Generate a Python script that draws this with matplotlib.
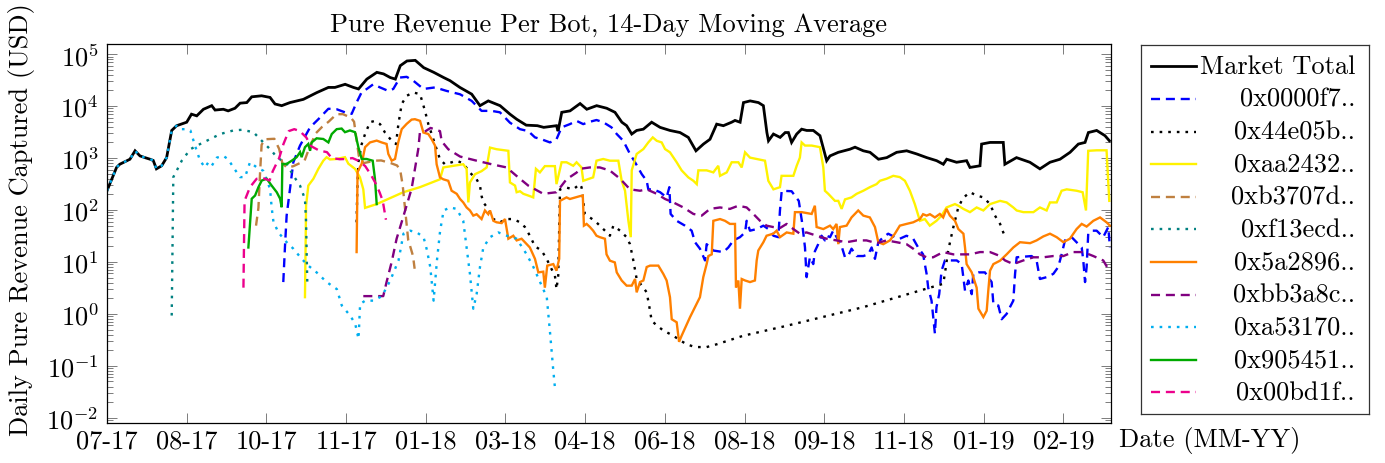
import numpy as np
import matplotlib
matplotlib.use('Agg')
import matplotlib.pyplot as plt
from matplotlib.ticker import LogLocator, NullFormatter, FuncFormatter, FixedLocator

plt.rcParams['font.family'] = 'cmr10'
plt.rcParams['mathtext.fontset'] = 'cm'
plt.rcParams['axes.formatter.use_mathtext'] = True
plt.rcParams['lines.scale_dashes'] = False
plt.rcParams['font.size'] = 19

## data: (days since first tick, 14-day MA revenue in USD)
tick_labels = ['07-17', '08-17', '10-17', '11-17', '01-18', '03-18', '04-18',
               '06-18', '08-18', '09-18', '11-18', '01-19', '02-19']

bot_names = ['Market Total', '0x0000f7..', '0x44e05b..', '0xaa2432..', '0xb3707d..',
             '0xf13ecd..', '0x5a2896..', '0xbb3a8c..', '0xa53170..', '0x905451..',
             '0x00bd1f..']

market_total = [(0, 235), (6, 660), (8, 760), (14.4, 950), (17.6, 1380), (20.7, 1100), (23.8, 1020),
                (27, 950), (29, 900), (31, 620), (34.3, 710), (37.4, 1020), (40.6, 3400), (43.7, 4200),
                (50, 4900), (53, 7000), (56.3, 6500), (60.5, 8700), (65.7, 10200), (67.8, 8400), (73, 8700),
                (76, 8100), (80.3, 9100), (83.5, 11400), (87.7, 11700), (90.8, 15100), (97, 15800),
                (102.3, 14700), (105.4, 11000), (109.6, 10200), (114.8, 11700), (123.2, 13500),
                (131.6, 18200), (138.9, 22900), (143, 22900), (149.4, 26300), (154.6, 22900),
                (157.8, 21400), (163, 33100), (169.3, 44700), (173.5, 41700), (177.7, 35500),
                (180.9, 33100), (184, 60000), (188.2, 74000), (193.4, 76000), (198.7, 55000),
                (205, 44700), (211.2, 35500), (215.2, 30900), (221.4, 22900), (228.8, 17000),
                (234, 10200), (239.2, 12600), (246.6, 10200), (252.8, 7000), (257, 5600), (263, 4300),
                (270, 4200), (274, 3900), (282, 4200), (283, 3300), (285.3, 7600), (290.5, 8100),
                (296.8, 11200), (301, 8700), (307.2, 10200), (313.5, 9100), (318.7, 7600), (323, 4900),
                (326, 4200), (329.2, 2900), (332.3, 3400), (336.5, 3600), (341.7, 4900), (347, 3900),
                (353.2, 3400), (359.5, 3100), (364.7, 2500), (369.5, 1380), (374.2, 1860), (378.3, 2300),
                (382.5, 4500), (386.7, 4200), (391.9, 4900), (394, 5300), (397.2, 4900), (399.3, 11700),
                (403.5, 12600), (408.7, 11700), (411.8, 10200), (414, 3100), (415, 2150), (418.1, 2900),
                (422.3, 2500), (425.5, 3100), (427.5, 3100), (429.5, 2000), (432.7, 2900), (435.8, 3600),
                (439, 3400), (443.1, 3400), (447.3, 2700), (451.5, 890), (453.6, 1100), (458.8, 1290),
                (466.1, 1480), (469.3, 1620), (474.5, 1380), (478.7, 1290), (484, 950), (489.2, 1020),
                (495.4, 1290), (501.7, 1380), (508, 1200), (514.3, 1020), (520.5, 890), (524.7, 760),
                (526.8, 950), (533, 830), (539.3, 890), (541.4, 660), (547.7, 710), (548.7, 1860),
                (554, 2000), (562.3, 2000), (563.3, 760), (570.6, 1020), (579, 830), (585.3, 620),
                (591.6, 830), (597.9, 950), (604.2, 1290), (609.4, 1860), (613.6, 2000), (615.7, 3100),
                (620.9, 3400), (626.1, 2700), (628.9, 2150)]

bot_0000f7 = [(110.6, 4.1), (111.7, 21), (112.7, 78), (114.8, 255), (116.9, 830), (121.1, 1740),
              (127.4, 3900), (132.6, 5600), (138.9, 8900), (144.1, 8700), (149.3, 7600), (153.5, 7100),
              (156.6, 11800), (159.8, 18600), (163, 21400), (167.1, 26400), (171.3, 22900), (176.5, 19600),
              (179.6, 21400), (183.8, 35500), (188, 36600), (192.2, 30800), (198.5, 21400), (205.8, 22900),
              (213.1, 19600), (221.5, 16900), (228.8, 12600), (235, 8100), (241.3, 8100), (246.5, 7600),
              (252.8, 4800), (259.1, 3600), (264.3, 3300), (268.5, 2500), (272.6, 2300), (277.9, 2000),
              (282, 2300), (285.2, 3900), (290.4, 4500), (294.6, 5200), (298.8, 4500), (301.9, 4900),
              (307.1, 5400), (311.3, 4900), (316.5, 3900), (319.8, 2900), (323.9, 2150), (328.1, 1200),
              (331.3, 830), (335.5, 490), (338.6, 365), (339.6, 250), (342.8, 250), (347, 220),
              (351.1, 175), (352.8, 275), (353.6, 84), (357.4, 62), (362.6, 50), (366.8, 40), (368.9, 24),
              (372, 18), (375.2, 10.7), (376.2, 22), (380.4, 16.6), (386.7, 15.5), (389.8, 19), (393, 26),
              (397.1, 30), (400.3, 37), (401.3, 62), (403.4, 40), (407.6, 43), (411.8, 50), (414.9, 43),
              (418.1, 32), (421.2, 30), (422.2, 98), (423.3, 235), (429.5, 230), (434, 150), (436, 60),
              (437.9, 19), (438.9, 5.1), (441, 12.3), (443.1, 9.1), (444.1, 16), (446.2, 22), (448.3, 32),
              (450.4, 26), (451.5, 32), (453.6, 30), (455.6, 40), (458.8, 26), (460.9, 20), (463, 12.3),
              (465, 13), (467.1, 18), (470.3, 13), (474.5, 13), (477.6, 14), (479.7, 19), (481.8, 11.5),
              (483.9, 24), (487, 30), (490.1, 35), (494.3, 30), (497.4, 28), (501.6, 32), (505.8, 28),
              (508.9, 19), (512, 14), (514.2, 5.9), (515.2, 3.2), (517.3, 1.8), (519.4, 0.42), (520.4, 1.35),
              (522.1, 2.4), (523.6, 6.8), (525.7, 10.7), (533.1, 10.7), (536.2, 9.1), (538.3, 2.8),
              (540.4, 4.4), (542.5, 2.4), (543.5, 5.9), (546.7, 6.3), (550.8, 6.3), (555, 4.1), (556.1, 1.55),
              (559.2, 1.45), (561.3, 0.79), (564.4, 1.0), (566.5, 1.35), (568.6, 1.8), (569.7, 5.9),
              (570.7, 12.3), (574.9, 12.6), (580.1, 13), (583.2, 10.7), (585.3, 4.7), (589.5, 5.1),
              (593.7, 5.9), (596.8, 8), (598.9, 14), (601, 26), (605.2, 30), (608.3, 24), (611.5, 19),
              (612.5, 10.7), (613.6, 4.1), (614.6, 8), (615.6, 35), (617.7, 40), (620.9, 40), (625, 30),
              (628.2, 47), (629.2, 19)]

bot_44e05b = [(156.6, 58), (157, 235), (157.7, 830), (159.8, 1860), (161.9, 2900), (165, 4900),
              (168.1, 5200), (171.3, 4500), (174.4, 3100), (178.6, 2150), (181.3, 1860), (182.8, 4500),
              (184.9, 11000), (188, 15800), (192.2, 18300), (196.4, 17000), (199.5, 8100), (201.6, 4500),
              (203.7, 2900), (206.8, 1480), (208.9, 950), (212, 760), (215.2, 810), (219.4, 890),
              (222.5, 810), (224.6, 710), (227.7, 525), (231.9, 390), (234, 295), (235, 186), (236.1, 140),
              (239.2, 105), (242.4, 67), (246.5, 58), (250.7, 67), (254.9, 67), (259.1, 58), (262.2, 47),
              (265.3, 32), (268.5, 20), (272.6, 16.6), (275.8, 11.5), (278.9, 7.3), (281, 5.5), (282, 3),
              (283.1, 5.5), (284.2, 250), (288.3, 270), (292.5, 250), (296.7, 315), (297.7, 275),
              (299.8, 84), (302.9, 72), (306, 62), (309.2, 50), (312.4, 40), (315.5, 32), (317.7, 50),
              (321.9, 40), (326, 30), (328.1, 22), (330.2, 10.7), (332.3, 4.7), (336.5, 3.2), (338.6, 2.6),
              (340.7, 1.15), (341.7, 0.74), (344.9, 0.6), (349, 0.48), (355.3, 0.38), (359.5, 0.31),
              (363.7, 0.26), (368.9, 0.23), (376.2, 0.23), (382.5, 0.26), (399.2, 0.38), (425.3, 0.58),
              (474.5, 1.35), (524.6, 3.8), (525.7, 6), (527.5, 15), (529, 25), (531, 47), (534, 110),
              (537, 170), (541.4, 220), (545.6, 190), (549.8, 175), (554, 130), (557.1, 78), (560.3, 54),
              (562.3, 37), (564, 28)]

bot_aa2432 = [(124.2, 2.1), (124.9, 122), (126.3, 295), (129.5, 400), (132.6, 620), (135.7, 890),
              (137.8, 1040), (139.9, 940), (144.1, 960), (149.3, 1040), (151.4, 780), (155.6, 620),
              (158.7, 425), (160.8, 250), (161.9, 110), (169.2, 130), (185.9, 220), (196.3, 275),
              (208.9, 390), (211, 660), (217.3, 710), (223.5, 760), (225.6, 620), (226.7, 140), (227.7, 340),
              (230.9, 490), (235, 560), (238.2, 660), (240.3, 1590), (244.4, 1480), (251.8, 1380),
              (252.8, 340), (256, 295), (257, 220), (259.1, 230), (261.2, 205), (264.3, 190), (267.4, 175),
              (269.1, 620), (271.6, 530), (274.7, 700), (281, 700), (282, 315), (285.2, 830), (288.3, 830),
              (292.5, 710), (294.6, 830), (297.7, 660), (298.8, 365), (305, 425), (307.1, 890), (311.3, 960),
              (315.5, 890), (320.8, 890), (322.9, 365), (325, 235), (327.1, 62), (328.6, 30), (329.2, 580),
              (332.3, 1200), (336.5, 1490), (339.6, 2000), (342.4, 2500), (344.9, 2150), (348, 2000),
              (350.1, 1490), (353.2, 1290), (357.4, 830), (360.5, 580), (364.7, 425), (367.9, 365),
              (370, 315), (371, 580), (376.2, 580), (380.4, 530), (383.5, 710), (384.6, 455), (388.8, 530),
              (391.9, 830), (396.1, 830), (398.2, 660), (400.3, 1290), (403.4, 1020), (407.6, 960),
              (412.8, 890), (414.9, 365), (418.1, 250), (422.2, 275), (423.2, 455), (430.6, 455),
              (432.7, 710), (434.7, 1020), (435.8, 2000), (437.9, 1740), (442.1, 1740), (447.3, 1620),
              (449.4, 660), (450.4, 235), (452.5, 205), (454.6, 175), (456.7, 150), (458.8, 150),
              (460.9, 105), (463, 160), (467.1, 175), (470.3, 205), (474.5, 235), (478.6, 275), (482.8, 315),
              (484.9, 365), (489.1, 400), (493.3, 455), (497.4, 430), (500.6, 365), (503.7, 235),
              (506.8, 130), (510, 62), (513.1, 67), (516.2, 50), (520.4, 62), (523.6, 78), (526.7, 112),
              (532, 130), (534.1, 121), (537.3, 105), (541.4, 91), (545.6, 112), (549.8, 98), (554, 130),
              (560.3, 150), (564.4, 140), (568.6, 112), (570.7, 98), (574.9, 91), (581.2, 91), (585.3, 112),
              (589.5, 98), (591.6, 140), (595.8, 140), (598.9, 235), (602.1, 250), (608.3, 235),
              (612.1, 220), (614.2, 98), (615.6, 1380), (620.9, 1410), (627.1, 1410), (628.8, 150)]

bot_b3707d = [(93.5, 50), (95, 110), (96, 500), (97, 1800), (99, 2300), (105, 2350), (108, 1500),
              (110, 800), (113, 650), (117, 700), (121, 800), (124, 900), (127, 1600), (131, 3000),
              (135, 4000), (139, 5000), (144, 7000), (148, 7000), (153, 6000), (155, 5000), (158, 1100),
              (161, 800), (168, 890), (172, 900), (178, 800), (182, 720), (184, 575), (185.5, 300),
              (189, 26), (190, 21), (192, 13), (193, 7.4)]

bot_f13ecd = [(40.6, 0.93), (41.6, 430), (43.7, 570), (46.9, 890), (52.3, 1480), (58.4, 1860),
              (65.1, 2350), (71, 2900), (79.3, 3400), (84.5, 3500), (91.8, 3160), (98.1, 2000),
              (103.3, 1380), (106.5, 1040), (112.7, 780), (116.9, 460), (121.1, 295), (124.2, 162),
              (124.9, 59), (125.3, 13), (125.7, 3.5)]

bot_5a2896 = [(156.6, 15.5), (157.2, 540), (159.8, 780), (161.9, 1620), (165, 2000), (169.2, 2170),
              (172.3, 2000), (175.4, 1870), (176.5, 1200), (178.6, 890), (180.7, 960), (182.7, 2000),
              (184.9, 3600), (188, 4550), (191.1, 5500), (193.2, 5600), (196.4, 5200), (198.5, 3100),
              (201.6, 2900), (203.7, 2300), (205.8, 1740), (206.8, 760), (208.9, 425), (211, 390),
              (214.1, 365), (216.2, 235), (219.4, 205), (221.5, 163), (223.5, 140), (225.6, 112),
              (227.7, 98), (229.8, 78), (231.9, 83), (235, 67), (237.1, 98), (239.2, 83), (240.3, 98),
              (242.4, 62), (244.4, 58), (247.6, 56), (249.7, 67), (251.8, 28), (254.9, 32), (257, 26),
              (260.1, 28), (262.2, 24), (265.3, 19), (268.5, 11.5), (270.6, 6.3), (273.7, 6.5), (274.7, 3.2),
              (276.2, 8.5), (280, 9.1), (282, 6.8), (283.7, 11.5), (284.2, 150), (288.3, 175), (290.4, 163),
              (296.7, 185), (298.5, 190), (299.2, 50), (300.9, 54), (303, 47), (305, 40), (307.1, 32),
              (309.2, 30), (312.4, 28), (313.4, 14), (315.5, 10.6), (318.6, 9.8), (319.8, 6.3), (322.9, 4.4),
              (326, 3.5), (329.2, 3.5), (331.3, 4.7), (332.3, 2.6), (334.4, 4.1), (336.5, 4.4), (338.6, 8),
              (340.7, 8.5), (345.9, 8.5), (349, 5.9), (351.1, 4.4), (353.2, 2.1), (354.3, 0.79),
              (357.4, 0.69), (358.9, 0.29), (360.5, 0.38), (365.8, 0.87), (372, 2.1), (374.1, 5.1),
              (376.2, 9.1), (377.3, 13), (379.4, 14), (380.4, 62), (384.6, 67), (387.7, 62), (390.8, 54),
              (394, 54), (394.6, 3.2), (396.1, 4.4), (397.1, 1.26), (398.2, 4.7), (400.3, 4.4), (403.4, 4.1),
              (406.5, 4.4), (407.6, 10.7), (408.6, 16.6), (411.8, 24), (413.8, 32), (418, 35), (420.1, 40),
              (422.2, 30), (426.4, 37), (430.6, 35), (431.6, 91), (435.8, 91), (442.1, 84), (444.1, 121),
              (445.2, 47), (449.4, 43), (453.6, 50), (455.6, 43), (457.7, 54), (458.8, 22), (459.8, 47),
              (464, 50), (467.1, 72), (471.3, 98), (474.5, 78), (478.6, 72), (481.8, 47), (483.9, 24),
              (487, 22), (491.2, 26), (494.3, 35), (497.4, 50), (501.6, 54), (505.8, 58), (510, 67),
              (512, 83), (514.2, 78), (516.3, 83), (519.4, 72), (522.5, 84), (524.6, 72), (526.7, 105),
              (528.8, 78), (532, 62), (534.1, 43), (537.3, 35), (538.3, 19), (539.3, 9.1), (542.5, 6.3),
              (545.6, 3.2), (546.7, 1.26), (549.8, 0.87), (551.9, 1.15), (552.9, 2.8), (554, 6.8),
              (556.1, 9.1), (560.3, 10.6), (564.4, 14), (568.6, 19), (572.8, 24), (579.1, 23), (583.2, 26),
              (587.4, 31), (591.6, 35), (595.8, 30), (600, 24), (604.1, 28), (608.3, 43), (611.5, 54),
              (614.6, 48), (618.8, 62), (623, 72), (627.1, 58), (629.2, 50)]

bot_bb3a8c = [(160.8, 2.2), (173.3, 2.2), (175.4, 4.1), (178.6, 10), (181.7, 28), (184.9, 59), (188, 123),
              (191.1, 257), (193.2, 620), (195.3, 1500), (196.3, 3100), (198.5, 3100), (203, 3800),
              (208.9, 3300), (210, 2100), (214.1, 1480), (221.5, 1070), (231.9, 890), (241.3, 760),
              (250.7, 660), (258, 425), (264.3, 295), (273.7, 205), (282, 220), (288.3, 390), (294.6, 525),
              (296.7, 620), (303, 660), (309.2, 660), (315.5, 575), (321.9, 400), (328.1, 250), (334.4, 235),
              (338.6, 250), (344.9, 205), (350.1, 163), (355.3, 140), (361.6, 112), (367.9, 84), (373.1, 78),
              (378.3, 105), (384.6, 112), (390.8, 105), (396.1, 121), (401.3, 112), (405.5, 84), (409.7, 62),
              (413.8, 50), (418, 47), (422.2, 45), (426.4, 54), (430.6, 43), (434.7, 35), (438.9, 37),
              (445.2, 32), (451.5, 28), (457.7, 26), (464, 24), (470.3, 26), (476.5, 26), (482.8, 23),
              (489.1, 26), (495.4, 24), (501.6, 22), (505.8, 18), (510, 14), (514.2, 12.3), (518.3, 12.3),
              (524.6, 15.5), (531, 14), (535.2, 14), (541.4, 14), (547.7, 15.5), (554, 15.5), (560.3, 13),
              (563.4, 10.7), (568.6, 9.1), (574.9, 10.7), (581.2, 12.3), (587.4, 12.3), (593.7, 13),
              (600, 13), (606.2, 15.5), (612.5, 15.5), (618.8, 13), (625, 10.7), (628.8, 6.8)]

bot_a53170 = [(0, 235), (6, 660), (8, 760), (14.4, 950), (17.6, 1380), (20.7, 1100), (23.8, 1020),
              (27, 950), (29, 900), (31, 620), (34.3, 710), (37.4, 1020), (40.6, 3400), (43.7, 4200),
              (46, 3600), (50, 3600), (52.3, 3400), (55.2, 1740), (58.4, 890), (61.5, 660), (63.6, 830),
              (65.7, 710), (68.9, 1020), (73, 1100), (76, 950), (79.3, 660), (83.5, 430), (86.6, 430),
              (89.7, 830), (94, 660), (98, 570), (102.3, 255), (103.3, 112), (104.4, 60), (107.5, 37),
              (112.7, 24), (116.9, 18), (122.1, 11.5), (126.3, 8.5), (131.5, 6.3), (137.8, 4.1),
              (144.2, 3), (147.3, 1.45), (152.5, 0.93), (155.7, 0.65), (157.8, 0.33), (158.8, 1.55),
              (162, 1.8), (167.2, 1.8), (172.5, 2.2), (177.7, 4.4), (182.9, 10.7), (186, 35), (190.2, 40),
              (194.4, 37), (198.6, 30), (200.7, 17), (202.8, 8), (204.9, 1.8), (207, 10.7), (209, 40),
              (211.2, 98), (215.2, 112), (219.4, 105), (223.5, 62), (225.6, 19), (227.7, 5.9), (229.8, 1.26),
              (231.9, 2.4), (234, 8), (236.1, 19), (240.3, 30), (245.5, 37), (250.8, 32), (257, 28),
              (263.3, 14), (267.5, 8), (271.7, 4.1), (275.9, 2.1), (278, 0.42), (280, 0.081), (281.1, 0.036)]

bot_905451 = [(88.7, 19), (90.8, 165), (92.9, 190), (95, 275), (97.1, 370), (100.2, 400), (103.3, 295),
              (106.5, 220), (108.6, 165), (109.6, 113), (110, 770), (112.7, 770), (115.9, 890), (119, 1040),
              (121.1, 1300), (122.1, 1040), (124.2, 1620), (126.3, 1870), (127.4, 1380), (128.4, 2000),
              (131.5, 2400), (135.7, 2330), (138.9, 2000), (141, 2900), (144.1, 3600), (147.2, 3700),
              (149.3, 3150), (152.4, 3400), (155.6, 3150), (157.7, 1620), (159.8, 960), (162.9, 960),
              (166.7, 890), (168.1, 400), (169.2, 130)]

bot_00bd1f = [(85.6, 3.2), (86.3, 150), (89.7, 275), (93.9, 400), (98, 410), (102, 370), (104, 560),
              (108, 1000), (110.7, 1860), (114, 3300), (117.5, 3600), (121, 3300), (125, 2500), (128, 1700),
              (133, 1400), (138, 1300), (141, 1000), (146, 950), (150, 960), (154, 1000), (158, 880),
              (162, 700), (165.5, 480), (168, 350), (171, 220), (173, 150), (175, 65)]

series_data = [market_total, bot_0000f7, bot_44e05b, bot_aa2432, bot_b3707d, bot_f13ecd,
               bot_5a2896, bot_bb3a8c, bot_a53170, bot_905451, bot_00bd1f]

DASHED = (0, (6.5, 4.2))
DOTTED = (0, (1.9, 4.3))
styles = [('black', '-', 2.0), ('#0000ff', DASHED, 1.7), ('black', DOTTED, 1.7),
          ('#fff200', '-', 1.7), ('#bf8040', DASHED, 1.7), ('#008080', DOTTED, 1.7),
          ('#ff8000', '-', 1.7), ('#800080', DASHED, 1.7), ('#00aeef', DOTTED, 1.7),
          ('#00aa00', '-', 1.7), ('#ec008c', DASHED, 1.7)]

W, H = 1385, 464
fig = plt.figure(figsize=(W / 100, H / 100), dpi=100)
ax = fig.add_axes([107 / W, 1 - 424 / H, (1110.7 - 107) / W, (424 - 45.3) / H])

for pts, (c, ls, lw) in zip(series_data, styles):
    d = np.array(pts, dtype=float)
    ax.plot(d[:, 0], d[:, 1], color=c, linestyle=ls, linewidth=lw, solid_joinstyle='miter')

ax.set_yscale('log')
ax.set_ylim(10 ** -2.1, 10 ** 5.19)
ax.set_xlim(0, 629.7)
ax.yaxis.set_major_locator(LogLocator(base=10, numticks=20))
ax.yaxis.set_minor_locator(LogLocator(base=10, subs=np.arange(2, 10), numticks=20))
ax.yaxis.set_minor_formatter(NullFormatter())
ax.yaxis.set_major_formatter(FuncFormatter(lambda v, p: r'$10^{%d}$' % round(np.log10(v))))
ax.xaxis.set_major_locator(FixedLocator(np.arange(len(tick_labels)) * 50))
ax.set_xticklabels(tick_labels)
ax.tick_params(which='both', direction='in', top=True, right=True, color='#666666', width=0.6)
ax.tick_params(which='major', length=7)
ax.tick_params(which='minor', length=4)
ax.tick_params(axis='x', pad=4)
ax.tick_params(axis='y', pad=6)
for s in ax.spines.values():
    s.set_linewidth(0.9)

fig.text(608.9 / W, 1 - 25 / H, 'Pure Revenue Per Bot, 14-Day Moving Average', ha='center', va='center')
fig.text(22 / W, 1 - 220 / H, 'Daily Pure Revenue Captured (USD)', rotation=90, ha='center', va='center')
fig.text(1119 / W, 1 - 441 / H, 'Date (MM-YY)', ha='left', va='center')

# legend drawn by hand so the labels can be right aligned like pgfplots
lax = fig.add_axes([1141 / W, 1 - 415 / H, (1369 - 1141) / W, (415 - 46) / H])
lax.set_xlim(0, 1)
lax.set_ylim(0, 1)
lax.set_xticks([])
lax.set_yticks([])
for s in lax.spines.values():
    s.set_linewidth(0.9)
    s.set_color('#333333')
for i, (name, (c, ls, lw)) in enumerate(zip(bot_names, styles)):
    yy = 1 - (21.3 + 32.6 * i) / 369
    lax.plot([0.043, 0.24], [yy, yy], color=c, linestyle=ls, linewidth=lw)
    lax.text(0.939, yy, name, ha='right', va='center')

fig.savefig('out.png', dpi=100)
